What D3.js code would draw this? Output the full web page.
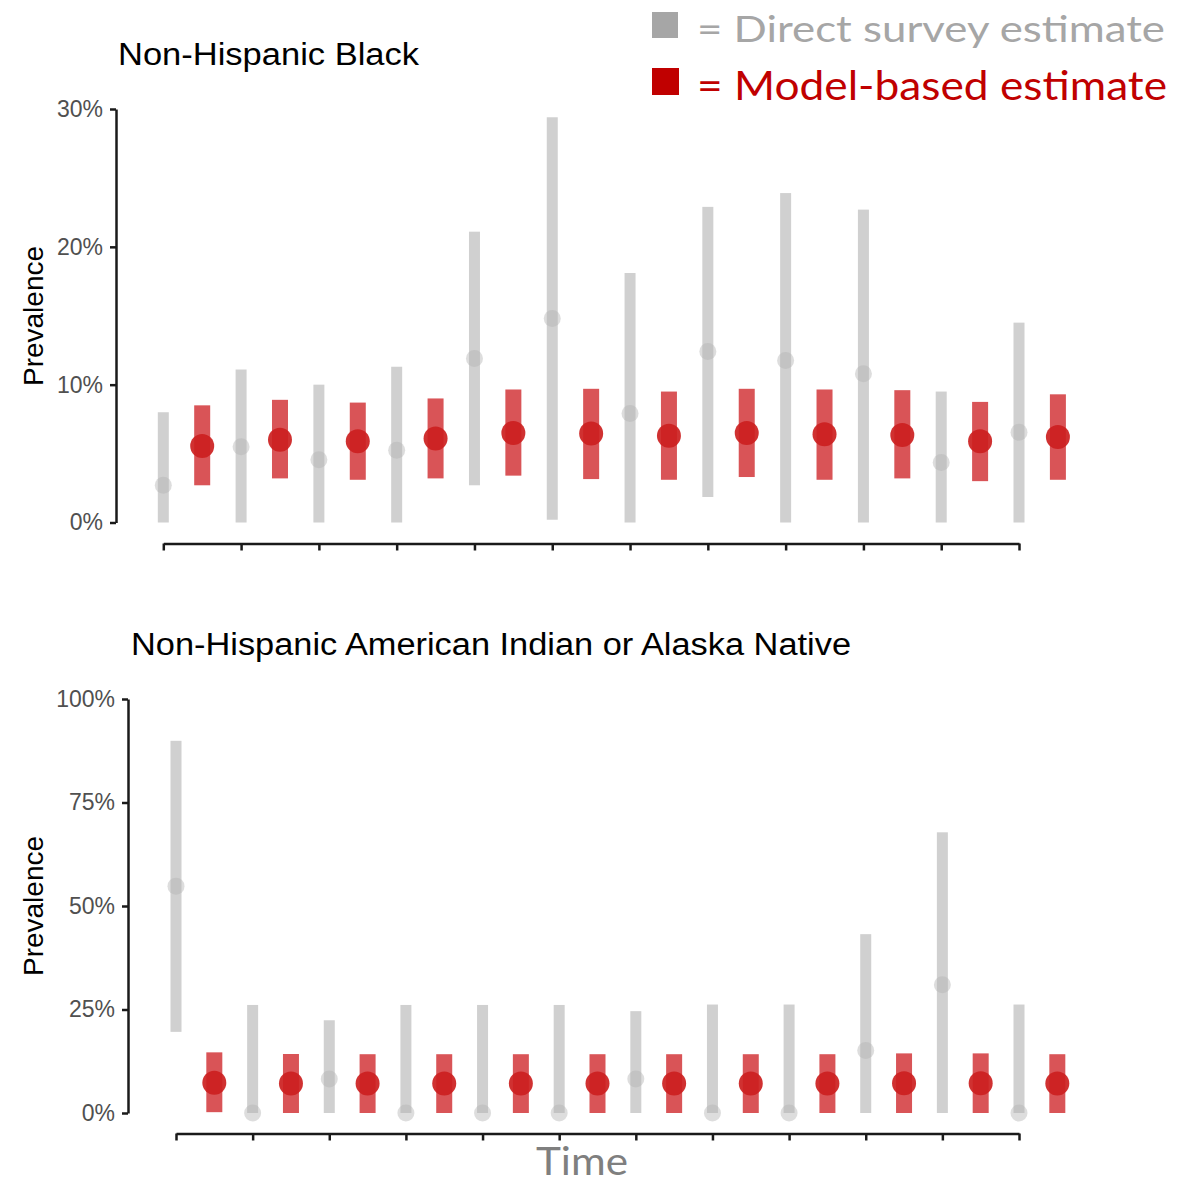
<!DOCTYPE html>
<html>
<head>
<meta charset="utf-8">
<script src="https://cdn.jsdelivr.net/npm/d3@7"></script>
<style>
  html, body { margin: 0; padding: 0; background: #fff; }
  svg { display: block; }
</style>
</head>
<body>
<svg id="chart" width="1191" height="1185"></svg>
<script>
// ---------- DATA ----------
const periods = ["P1","P2","P3","P4","P5","P6","P7","P8","P9","P10","P11","P12"];

// Non-Hispanic Black (percent)
const blackDirectEst = [2.7, 5.5, 4.55, 5.25, 11.9, 14.8, 7.9, 12.4, 11.75, 10.8, 4.35, 6.55];
const blackDirectLo  = [0, 0, 0, 0, 2.7, 0.2, 0, 1.85, 0, 0, 0, 0];
const blackDirectHi  = [8.0, 11.1, 10.0, 11.3, 21.1, 29.4, 18.1, 22.9, 23.9, 22.7, 9.5, 14.5];
const blackModelEst  = [5.55, 6.0, 5.9, 6.1, 6.5, 6.45, 6.3, 6.5, 6.4, 6.35, 5.9, 6.2];
const blackModelLo   = [2.7, 3.2, 3.1, 3.2, 3.4, 3.15, 3.1, 3.3, 3.1, 3.2, 3.0, 3.1];
const blackModelHi   = [8.5, 8.9, 8.7, 9.0, 9.65, 9.7, 9.5, 9.7, 9.65, 9.6, 8.75, 9.3];

// Non-Hispanic American Indian or Alaska Native (percent)
const aianDirectEst = [54.8, 0, 8.2, 0, 0, 0, 8.2, 0, 0, 15.1, 31.0, 0];
const aianDirectLo  = [19.6, 0, 0, 0, 0, 0, 0, 0, 0, 0, 0, 0];
const aianDirectHi  = [89.9, 26.1, 22.4, 26.1, 26.1, 26.1, 24.6, 26.2, 26.2, 43.2, 67.8, 26.2];
const aianModelEst  = [7.3, 7.1, 7.15, 7.15, 7.15, 7.1, 7.1, 7.1, 7.1, 7.2, 7.2, 7.15];
const aianModelLo   = [0.2, 0, 0, 0, 0, 0, 0, 0, 0, 0, 0, 0];
const aianModelHi   = [14.65, 14.25, 14.2, 14.2, 14.2, 14.2, 14.2, 14.2, 14.2, 14.4, 14.4, 14.2];

const blackTicks = [0, 10, 20, 30];
const aianTicks  = [0, 25, 50, 75, 100];

const titles = ["Non-Hispanic Black", "Non-Hispanic American Indian or Alaska Native"];
const legendLabels = ["= Direct survey estimate", "= Model-based estimate"];
const yLabel = "Prevalence";
const xLabel = "Time";

// ---------- STYLE ----------
const GRAY_BAR = "#d0d0d0";
const GRAY_PT = "#b4b4b4";
const RED_BAR = "#d95457";
const RED_PT = "#cc2020";
const AXIS = "#1a1a1a";

const svg = d3.select("#chart");

function panel(cfg) {
  const g = svg.append("g");
  const y = d3.scaleLinear().domain([0, cfg.max]).range([cfg.yBottom, cfg.yTop]);
  const x = d3.scalePoint().domain(periods).range([cfg.xLeft, cfg.xRight]);
  const half = x.step() / 2;

  // y axis
  const ya = g.append("g")
    .attr("transform", `translate(${cfg.yAxisX},0)`)
    .call(d3.axisLeft(y).tickValues(cfg.ticks).tickFormat(d => d + "%")
      .tickSize(6).tickSizeOuter(0).tickPadding(7));
  ya.select(".domain").attr("stroke", AXIS).attr("stroke-width", 2.5);
  ya.selectAll(".tick line").attr("stroke", AXIS).attr("stroke-width", 2.5);
  ya.selectAll(".tick text").attr("fill", "#505050")
    .style("font-family", "Liberation Sans, Arial, sans-serif").style("font-size", "23px");

  // x axis
  const xa = g.append("g")
    .attr("transform", `translate(0,${cfg.xAxisY})`)
    .call(d3.axisBottom(x).tickFormat("").tickSize(7).tickSizeOuter(0));
  xa.select(".domain").attr("stroke", AXIS).attr("stroke-width", 2.5);
  xa.selectAll(".tick line").attr("stroke", AXIS).attr("stroke-width", 2.5);

  const rows = periods.map((p, i) => ({
    p, de: cfg.de[i], dl: cfg.dl[i], dh: cfg.dh[i],
    me: cfg.me[i], ml: cfg.ml[i], mh: cfg.mh[i]
  }));

  // direct survey bars
  g.selectAll(".gbar").data(rows).join("rect")
    .attr("x", d => x(d.p) - 5.5).attr("width", 11)
    .attr("y", d => y(d.dh)).attr("height", d => y(d.dl) - y(d.dh))
    .attr("fill", GRAY_BAR);
  g.selectAll(".gpt").data(rows).join("circle")
    .attr("cx", d => x(d.p)).attr("cy", d => y(d.de)).attr("r", 8.5)
    .attr("fill", GRAY_PT).attr("fill-opacity", 0.45);

  // model-based bars
  g.selectAll(".rbar").data(rows).join("rect")
    .attr("x", d => x(d.p) + half - 8).attr("width", 16)
    .attr("y", d => y(d.mh)).attr("height", d => y(d.ml) - y(d.mh))
    .attr("fill", RED_BAR);
  g.selectAll(".rpt").data(rows).join("circle")
    .attr("cx", d => x(d.p) + half).attr("cy", d => y(d.me)).attr("r", 12)
    .attr("fill", RED_PT).attr("fill-opacity", 0.92);

  // title
  g.append("text")
    .attr("x", cfg.titleX).attr("y", cfg.titleY)
    .attr("textLength", cfg.titleLen).attr("lengthAdjust", "spacingAndGlyphs")
    .style("font-family", "Liberation Sans, Arial, sans-serif").style("font-size", "31px")
    .attr("fill", "#000").text(cfg.title);

  // y label
  g.append("text")
    .attr("transform", `translate(${cfg.yLabX},${cfg.yLabY}) rotate(-90)`)
    .attr("text-anchor", "middle")
    .style("font-family", "Liberation Sans, Arial, sans-serif").style("font-size", "28px")
    .attr("fill", "#000").text(yLabel);
}

panel({
  max: 30, ticks: blackTicks, yTop: 109, yBottom: 522.5, yAxisX: 116,
  xLeft: 163.3, xRight: 1019, xAxisY: 543.5,
  de: blackDirectEst, dl: blackDirectLo, dh: blackDirectHi,
  me: blackModelEst, ml: blackModelLo, mh: blackModelHi,
  title: titles[0], titleX: 118, titleY: 64.5, titleLen: 301,
  yLabX: 43, yLabY: 316
});

panel({
  max: 100, ticks: aianTicks, yTop: 699, yBottom: 1113, yAxisX: 128,
  xLeft: 176, xRight: 1019, xAxisY: 1133.5,
  de: aianDirectEst, dl: aianDirectLo, dh: aianDirectHi,
  me: aianModelEst, ml: aianModelLo, mh: aianModelHi,
  title: titles[1], titleX: 131, titleY: 654.5, titleLen: 720,
  yLabX: 43, yLabY: 906
});

// x label
svg.append("text")
  .attr("x", 536).attr("y", 1175)
  .attr("textLength", 92).attr("lengthAdjust", "spacingAndGlyphs")
  .style("font-family", "Lato, 'Open Sans', sans-serif").style("font-size", "38px")
  .attr("fill", "#7f7f7f").text(xLabel);

// legend
const legend = [
  { label: legendLabels[0], color: "#a6a6a6", sq: [652, 12, 26, 26], tx: 697, ty: 41.5, size: 37, len: 468 },
  { label: legendLabels[1], color: "#c00000", sq: [652, 68, 27, 27], tx: 697, ty: 100, size: 40, len: 470 }
];
const lg = svg.append("g");
lg.selectAll("rect").data(legend).join("rect")
  .attr("x", d => d.sq[0]).attr("y", d => d.sq[1])
  .attr("width", d => d.sq[2]).attr("height", d => d.sq[3])
  .attr("fill", d => d.color);
lg.selectAll("text").data(legend).join("text")
  .attr("x", d => d.tx).attr("y", d => d.ty)
  .attr("textLength", d => d.len).attr("lengthAdjust", "spacingAndGlyphs")
  .style("font-family", "Lato, 'Open Sans', sans-serif")
  .style("font-size", d => d.size + "px")
  .attr("fill", d => d.color).text(d => d.label);
</script>
</body>
</html>
